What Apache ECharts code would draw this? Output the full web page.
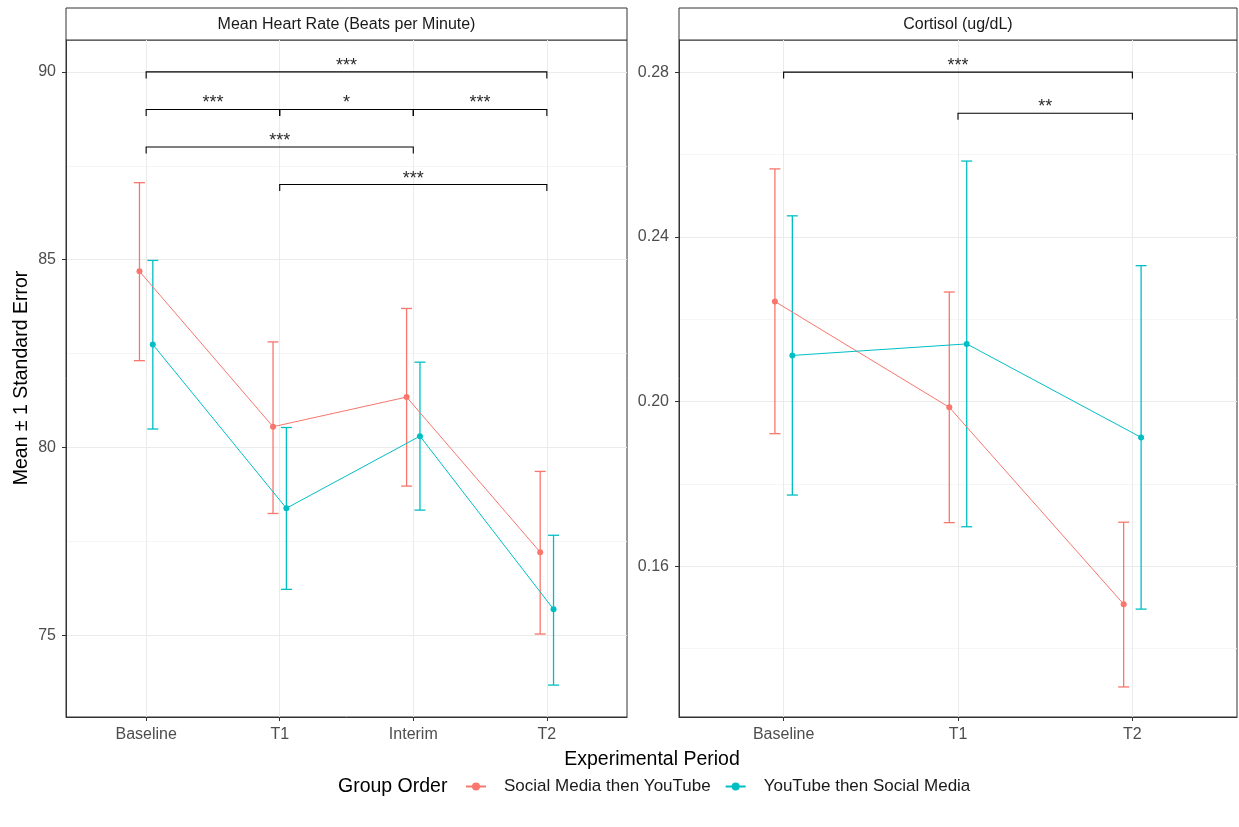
<!DOCTYPE html>
<html>
<head>
<meta charset="utf-8">
<script src="https://cdn.jsdelivr.net/npm/echarts@6/dist/echarts.min.js"></script>
<style>
html,body{margin:0;padding:0;background:#fff;}
#chart{width:1239px;height:827px;}
</style>
</head>
<body>
<div id="chart"></div>
<script>
// ---------- data ----------
const periodsHR = ['Baseline', 'T1', 'Interim', 'T2'];
const periodsCort = ['Baseline', 'T1', 'T2'];
const groupNames = ['Social Media then YouTube', 'YouTube then Social Media'];
const groupColors = ['#F8766D', '#00BFC4'];

// Mean Heart Rate (Beats per Minute)
const hrSM_mean = [84.69, 80.55, 81.34, 77.21];
const hrSM_lo   = [82.31, 78.24, 78.97, 75.03];
const hrSM_hi   = [87.05, 82.81, 83.70, 79.36];
const hrYT_mean = [82.74, 78.38, 80.30, 75.69];
const hrYT_lo   = [80.49, 76.22, 78.33, 73.67];
const hrYT_hi   = [84.98, 80.53, 82.27, 77.66];

// Cortisol (ug/dL)
const coSM_mean = [0.2243, 0.1986, 0.1508];
const coSM_lo   = [0.1922, 0.1706, 0.1307];
const coSM_hi   = [0.2565, 0.2266, 0.1707];
const coYT_mean = [0.2112, 0.2140, 0.1913];
const coYT_lo   = [0.1773, 0.1696, 0.1496];
const coYT_hi   = [0.2451, 0.2584, 0.2330];

// significance brackets: [from, to, y, label]
const hrBrackets = [
  ['Baseline', 'T2', 90, '***'],
  ['Baseline', 'T1', 89, '***'],
  ['T1', 'Interim', 89, '*'],
  ['Interim', 'T2', 89, '***'],
  ['Baseline', 'Interim', 88, '***'],
  ['T1', 'T2', 87, '***']
];
const cortBrackets = [
  ['Baseline', 'T2', 0.28, '***'],
  ['T1', 'T2', 0.27, '**']
];

// axis ticks
const hrTicks = [75, 80, 85, 90];
const hrMinor = [77.5, 82.5, 87.5];
const cortTicks = [0.16, 0.20, 0.24, 0.28];
const cortMinor = [0.14, 0.18, 0.22, 0.26];
const hrRange = [72.82, 90.85];
const cortRange = [0.1234, 0.2878];

const dodge = 0.05;
const FONT = 'Liberation Sans, Arial, sans-serif';

// ---------- builders ----------
function pts(mean, off) { return mean.map((v, i) => [i + off, v]); }
function ebars(lo, hi, off) { return lo.map((v, i) => [i + off, v, hi[i]]); }
function bracketData(list, periods) {
  return list.map(b => [periods.indexOf(b[0]), periods.indexOf(b[1]), b[2]]);
}

function errorSeries(name, gi, lo, hi, off, color) {
  return {
    type: 'custom', name: name + ' err', xAxisIndex: gi, yAxisIndex: gi * 2,
    data: ebars(lo, hi, off), z: 3, silent: true,
    encode: { x: 0, y: [1, 2] },
    renderItem: function (params, api) {
      const a = api.coord([api.value(0), api.value(1)]);
      const b = api.coord([api.value(0), api.value(2)]);
      const w = 5.5;
      const st = { stroke: color, lineWidth: 1.3, fill: null };
      return {
        type: 'group', children: [
          { type: 'line', shape: { x1: a[0], y1: a[1], x2: b[0], y2: b[1] }, style: st },
          { type: 'line', shape: { x1: a[0] - w, y1: a[1], x2: a[0] + w, y2: a[1] }, style: st },
          { type: 'line', shape: { x1: b[0] - w, y1: b[1], x2: b[0] + w, y2: b[1] }, style: st }
        ]
      };
    }
  };
}

function lineSeries(name, gi, mean, off, color) {
  return {
    type: 'line', name: name, xAxisIndex: gi, yAxisIndex: gi * 2,
    data: pts(mean, off), symbol: 'circle', symbolSize: 6, showSymbol: true,
    itemStyle: { color: color }, lineStyle: { color: color, width: 1 },
    z: 4, animation: false
  };
}

function bracketSeries(gi, list, periods) {
  return {
    type: 'custom', xAxisIndex: gi, yAxisIndex: gi * 2, silent: true, z: 5,
    data: bracketData(list, periods),
    encode: { x: [0, 1], y: 2 },
    renderItem: function (params, api) {
      const p1 = api.coord([api.value(0), api.value(2)]);
      const p2 = api.coord([api.value(1), api.value(2)]);
      const t = 6.5;
      const label = list[params.dataIndex][3];
      return {
        type: 'group', children: [
          { type: 'polyline', shape: { points: [[p1[0], p1[1] + t], [p1[0], p1[1]], [p2[0], p2[1]], [p2[0], p2[1] + t]] },
            style: { stroke: '#000', lineWidth: 1.1, fill: null } },
          { type: 'text', style: { x: (p1[0] + p2[0]) / 2, y: p1[1] + 3, text: label, align: 'center', verticalAlign: 'bottom',
            fill: '#2b2b2b', font: '18px ' + FONT } }
        ]
      };
    }
  };
}

function xAxisDef(gi, periods) {
  const vals = periods.map((p, i) => i);
  return {
    type: 'value', gridIndex: gi, min: -0.6, max: periods.length - 0.4,
    axisLine: { show: true, onZero: false, lineStyle: { color: '#333', width: 1 } },
    axisTick: { show: true, length: 4, lineStyle: { color: '#333' }, customValues: vals },
    axisLabel: { customValues: vals, formatter: v => periods[Math.round(v)], color: '#4d4d4d', fontSize: 16, fontFamily: FONT, margin: 10 },
    splitLine: { show: true, lineStyle: { color: '#ebebeb', width: 1 } }
  };
}

function yAxisDefs(gi, range, ticks, minor, fmt) {
  return [{
    type: 'value', gridIndex: gi, min: range[0], max: range[1], position: 'left',
    axisLine: { show: true, onZero: false, lineStyle: { color: '#333', width: 1 } },
    axisTick: { show: true, length: 4, lineStyle: { color: '#333' }, customValues: ticks },
    axisLabel: { customValues: ticks, formatter: fmt, color: '#4d4d4d', fontSize: 16, fontFamily: FONT, margin: 10 },
    splitLine: { show: true, lineStyle: { color: '#ebebeb', width: 1 } }
  }, {
    type: 'value', gridIndex: gi, min: range[0], max: range[1], position: 'left',
    axisLine: { show: false, onZero: false },
    axisTick: { show: false, customValues: minor },
    axisLabel: { show: false, customValues: minor },
    splitLine: { show: true, lineStyle: { color: '#f3f3f3', width: 0.8 } }
  }];
}

const grids = [
  { left: 66, top: 40, width: 561, height: 677 },
  { left: 679, top: 40, width: 558, height: 677 }
];

const option = {
  backgroundColor: '#fff',
  animation: false,
  grid: grids.map(g => Object.assign({ show: true, borderColor: '#333', borderWidth: 1, backgroundColor: 'transparent', containLabel: false }, g)),
  xAxis: [xAxisDef(0, periodsHR), xAxisDef(1, periodsCort)],
  yAxis: yAxisDefs(0, hrRange, hrTicks, hrMinor, v => String(Math.round(v)))
    .concat(yAxisDefs(1, cortRange, cortTicks, cortMinor, v => v.toFixed(2))),
  legend: {
    data: groupNames, left: 465, top: 778, padding: 0, itemWidth: 20, itemHeight: 10, itemGap: 14,
    textStyle: { fontSize: 17, color: '#1a1a1a', fontFamily: FONT, padding: [0, 0, 0, 13] }
  },
  series: [
    errorSeries(groupNames[0], 0, hrSM_lo, hrSM_hi, -dodge, groupColors[0]),
    errorSeries(groupNames[1], 0, hrYT_lo, hrYT_hi, dodge, groupColors[1]),
    lineSeries(groupNames[0], 0, hrSM_mean, -dodge, groupColors[0]),
    lineSeries(groupNames[1], 0, hrYT_mean, dodge, groupColors[1]),
    bracketSeries(0, hrBrackets, periodsHR),
    errorSeries(groupNames[0], 1, coSM_lo, coSM_hi, -dodge, groupColors[0]),
    errorSeries(groupNames[1], 1, coYT_lo, coYT_hi, dodge, groupColors[1]),
    lineSeries(groupNames[0], 1, coSM_mean, -dodge, groupColors[0]),
    lineSeries(groupNames[1], 1, coYT_mean, dodge, groupColors[1]),
    bracketSeries(1, cortBrackets, periodsCort)
  ],
  graphic: [
    { type: 'rect', shape: { x: 66, y: 8, width: 561, height: 32 }, style: { fill: '#fff', stroke: '#333', lineWidth: 1 } },
    { type: 'text', x: 346.5, y: 25, style: { text: 'Mean Heart Rate (Beats per Minute)', align: 'center', verticalAlign: 'middle', fill: '#1a1a1a', font: '16px ' + FONT } },
    { type: 'rect', shape: { x: 679, y: 8, width: 558, height: 32 }, style: { fill: '#fff', stroke: '#333', lineWidth: 1 } },
    { type: 'text', x: 958, y: 25, style: { text: 'Cortisol (ug/dL)', align: 'center', verticalAlign: 'middle', fill: '#1a1a1a', font: '16px ' + FONT } },
    { type: 'text', x: 652, y: 760, style: { text: 'Experimental Period', align: 'center', verticalAlign: 'middle', fill: '#000', font: '19.5px ' + FONT } },
    { type: 'text', x: 22, y: 378, rotation: Math.PI / 2, style: { text: 'Mean \u00b1 1 Standard Error', align: 'center', verticalAlign: 'middle', fill: '#000', font: '19.5px ' + FONT } },
    { type: 'text', x: 338, y: 787, style: { text: 'Group Order', align: 'left', verticalAlign: 'middle', fill: '#000', font: '19.5px ' + FONT } }
  ]
};

const chart = echarts.init(document.getElementById('chart'), null, { renderer: 'canvas' });
chart.setOption(option);
</script>
</body>
</html>
